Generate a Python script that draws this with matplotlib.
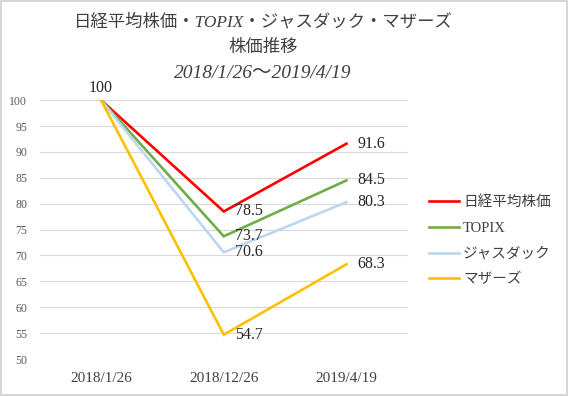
import matplotlib
matplotlib.use("Agg")
import matplotlib.pyplot as plt
from matplotlib.patches import Rectangle

plt.rcParams['font.family'] = ['Liberation Serif', 'Noto Sans CJK JP', 'DejaVu Sans']

dates = ['2018/1/26', '2018/12/26', '2019/4/19']
series_names = ['日経平均株価', 'TOPIX', 'ジャスダック', 'マザーズ']
nikkei = [100, 78.5, 91.6]
topix = [100, 73.7, 84.5]
jasdaq = [100, 70.6, 80.3]
mothers = [100, 54.7, 68.3]
colors = ['#FF0000', '#70AD47', '#BDD7EE', '#FFC000']
title_lines = ['日経平均株価・TOPIX・ジャスダック・マザーズ', '株価推移', '2018/1/26〜2019/4/19']

fig = plt.figure(figsize=(5.68, 3.96), dpi=100)
ax = fig.add_axes([0.070, 0.0934, 0.648, 0.6536])

x = list(range(len(dates)))
for name, vals, c in zip(series_names, [nikkei, topix, jasdaq, mothers], colors):
    ax.plot(x, vals, color=c, lw=1.9, label=name, solid_joinstyle='miter')
    # labels for the later points sit right of the marker
    for xi, v in zip(x[1:], vals[1:]):
        ax.annotate(f'{v:.1f}', (xi, v), xytext=(8, 0), textcoords='offset points',
                    ha='left', va='center', fontsize=11.5, color='#262626')

ax.annotate(f'{nikkei[0]:g}', (x[0], nikkei[0]), xytext=(0, 3), textcoords='offset points',
            ha='center', va='bottom', fontsize=11.5, color='#262626')

ax.set_xlim(-0.5, len(dates) - 0.5)
ax.set_ylim(50, 100)
ax.set_yticks(range(50, 101, 5))
ax.set_xticks(x)
ax.set_xticklabels(dates, fontsize=11, color='#404040')
ax.tick_params(axis='y', labelsize=8.5, colors='#595959', length=0, pad=9)
ax.tick_params(axis='x', length=0, pad=9)
ax.grid(axis='y', color='#D9D9D9', lw=0.8)
ax.set_axisbelow(True)
for s in ax.spines.values():
    s.set_visible(False)

fig.legend(loc='upper left', bbox_to_anchor=(0.733, 0.54), frameon=False,
           fontsize=10.5, handlelength=2.0, handletextpad=0.3, labelspacing=0.85,
           labelcolor='#404040')

for t, y, fs in zip(title_lines, [0.944, 0.878, 0.815], [12.5, 12.5, 14]):
    fig.text(0.463, y, t, ha='center', va='center', fontsize=fs,
             style='italic', color='#404040')

fig.patches.append(Rectangle((0.002, 0.003), 0.996, 0.994, transform=fig.transFigure,
                             fill=False, edgecolor='#D0D0D0', lw=1.2))

fig.savefig('out.png', dpi=100)
